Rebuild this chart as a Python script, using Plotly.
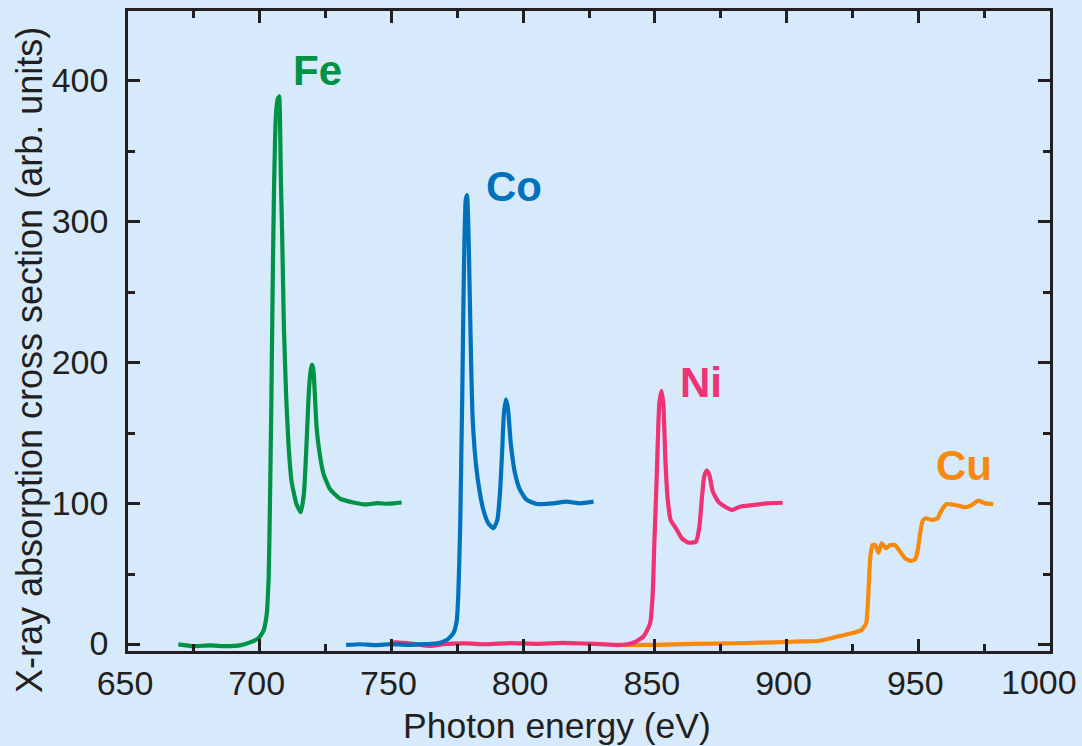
import plotly.graph_objects as go

# ---- data ----
fe_energy = [669.1, 674.8, 681.1, 687.5, 692.5, 696.3, 699.5, 701.4, 702.6, 703.4, 703.9, 704.4,
             704.9, 705.4, 706.1, 706.7, 707.07, 707.45, 707.7, 708.0, 708.5, 709.2, 710.0, 710.9,
             712.1, 714.0, 715.6, 716.8, 717.45, 718.1, 718.7, 719.35, 719.85, 720.4, 720.98, 721.6,
             722.6, 724.2, 726.7, 730.5, 735.5, 740.6, 744.5, 748.2, 751.0, 753.9]
fe_value = [0.1, -1.2, -0.6, -1.2, -0.6, 1.5, 4.3, 9.7, 20.5, 47.8, 102, 170,
            251.7, 319.7, 374, 387.7, 379.5, 389, 374, 333, 292, 224.5, 178.3, 143,
            115.7, 99.4, 94, 107.6, 129.3, 156.5, 181, 194.6, 198.6, 194.6, 175.5, 153.8,
            137.5, 121.2, 110.3, 103.5, 100.8, 99.4, 100.3, 99.9, 100.2, 100.8]

co_energy = [732.8, 738, 744, 750, 756, 763.4, 767.2, 771.0, 773.5, 774.8, 775.4, 776.1, 776.5,
             776.9, 777.3, 777.7, 778.2, 778.7, 779.2, 779.6, 780.1, 780.7, 781.7, 783.0,
             784.9, 786.8, 788.7, 790.2, 791.2, 792.0, 792.7, 793.5, 794.3, 795.3, 796.9,
             798.8, 801.4, 805.2, 811.5, 816.5, 821.6, 826.7]
co_value = [-0.3, 0.2, -0.4, 0.3, -0.2, 0.3, 0.8, 3.2, 8, 17, 36.3, 83.6, 131,
            178.3, 237.4, 284.7, 315.5, 319, 296.5, 261, 213.8, 166.4, 135.7, 114.4,
            95.5, 86, 82.5, 88.4, 107.3, 135.7, 164, 174, 166.4, 142.8, 121.5,
            109.7, 102.6, 99.7, 100.2, 101.4, 100.2, 101.4]

ni_energy = [750.7, 756, 762, 765, 770, 778, 786, 795, 805, 815, 825, 829.2, 836.8, 841.8, 845.6,
             848.2, 849.2, 849.8, 850.5, 851.1, 851.7, 852.5, 853.2, 854.0, 854.9, 856.0,
             858.0, 860.2, 862.7, 865.6, 866.9, 867.8, 868.7, 869.7, 870.7, 872.0, 874.1,
             876.7, 879.2, 882.3, 887.4, 892.5, 898.5]
ni_value = [1.5, 1.0, -0.5, -1.0, 0.3, 0.8, 0.2, 1.0, 0.5, 1.2, 0.6, 0.35, -0.35, 1.3, 5.5,
            15, 36.3, 71.8, 107.3, 142.8, 171.2, 180.1, 171.2, 131, 102.6, 88.4,
            82.5, 75.4, 72.3, 73, 83.6, 102.6, 119.1, 123.4, 120.3, 108.5, 101.4,
            97.8, 95.5, 97.8, 99, 100.2, 100.6]

cu_energy = [835.0, 850, 865, 880, 890, 900, 906, 912.7, 919.1, 925.4, 928.5, 930.2, 930.8, 931.3,
             931.8, 932.6, 933.6, 934.9, 936.1, 937.8, 939.3, 941.2, 943.1, 945.0, 947.1,
             948.8, 949.8, 950.7, 951.7, 953.0, 955.1, 957.3, 958.9, 960.8, 964.0, 967.8,
             970.3, 972.8, 975.4, 978.5]
cu_value = [-0.3, -0.2, 0.4, 0.9, 1.3, 1.8, 2.2, 2.7, 5.5, 8.4, 10.3, 15, 26.8, 45.8,
            62.3, 70.6, 70.6, 65.2, 71.8, 68.3, 70.6, 70.6, 65.9, 61.2, 59.3,
            60.5, 67.1, 78.9, 87.9, 89.6, 88.4, 89.6, 95.5, 99.7, 99, 97.4,
            99, 102.1, 100.2, 99.7]

labels = ["Fe", "Co", "Ni", "Cu"]
label_x = [722.1, 796.5, 867.5, 967.4]
label_y = [407.7, 324.7, 185.6, 127.4]
colors = ["#009245", "#0072bc", "#ee3273", "#f7890c"]

x_tick_vals = [650, 700, 750, 800, 850, 900, 950, 1000]
x_tick_text = ["650", "700", "750", "800", "850", "900", "950", ""]
x_last_label = "1000"
y_tick_vals = [0, 100, 200, 300, 400]

x_title = "Photon energy (eV)"
y_title = "X-ray absorption cross section (arb. units)"

BG = "#d6eafc"
INK = "#231f20"
FONT = "Liberation Sans, Arial, sans-serif"

fig = go.Figure()
series = [(cu_energy, cu_value, 3), (ni_energy, ni_value, 2), (co_energy, co_value, 1), (fe_energy, fe_value, 0)]
for ex, ev, i in series:
    fig.add_trace(go.Scatter(x=ex, y=ev, mode="lines", name=labels[i],
                             line=dict(color=colors[i], width=4.2, shape="spline", smoothing=0.5),
                             showlegend=False))

for i, lab in enumerate(labels):
    fig.add_annotation(x=label_x[i], y=label_y[i], text=f"<b>{lab}</b>", showarrow=False,
                       font=dict(family=FONT, size=42, color=colors[i]),
                       xanchor="center", yanchor="middle")

# last x tick label, kept inside the page like in the reference
fig.add_annotation(xref="x", yref="paper", x=x_tick_vals[-1], y=-0.048, text=x_last_label,
                   showarrow=False, xanchor="right", yanchor="middle", xshift=29,
                   font=dict(family=FONT, size=34, color=INK))

fig.add_annotation(xref="paper", yref="paper", x=0.465, y=-0.117, text=x_title, showarrow=False,
                   font=dict(family=FONT, size=35.5, color=INK), xanchor="center", yanchor="middle")
fig.add_annotation(xref="paper", yref="paper", x=-0.106, y=0.455, text=y_title, showarrow=False,
                   textangle=-90, font=dict(family=FONT, size=36, color=INK),
                   xanchor="center", yanchor="middle")

axis_common = dict(showline=True, linecolor=INK, linewidth=2.5, mirror="ticks",
                   ticks="inside", ticklen=12, tickwidth=2.5, tickcolor=INK,
                   showgrid=False, zeroline=False, automargin=False,
                   tickfont=dict(family=FONT, size=34, color=INK))

fig.update_xaxes(range=[650, 1000], tickvals=x_tick_vals, ticktext=x_tick_text,
                 minor=dict(dtick=25, tick0=650, ticks="inside", ticklen=7, tickwidth=2.5,
                            tickcolor=INK, showgrid=False),
                 ticklabelstandoff=0, ticklabelshift=-3, **axis_common)
fig.update_yaxes(range=[-4.6, 449.6], tickvals=y_tick_vals,
                 minor=dict(dtick=50, tick0=0, ticks="inside", ticklen=7, tickwidth=2.5,
                            tickcolor=INK, showgrid=False),
                 ticklabelstandoff=10, ticklabelshift=-1, **axis_common)

fig.update_layout(width=1082, height=746, paper_bgcolor=BG, plot_bgcolor=BG,
                  margin=dict(l=128, r=32, t=11, b=95, autoexpand=False), showlegend=False)

fig.write_html("out.html", config={"displayModeBar": False},
               post_script="document.body.style.margin='0';document.body.style.background='" + BG + "';")
